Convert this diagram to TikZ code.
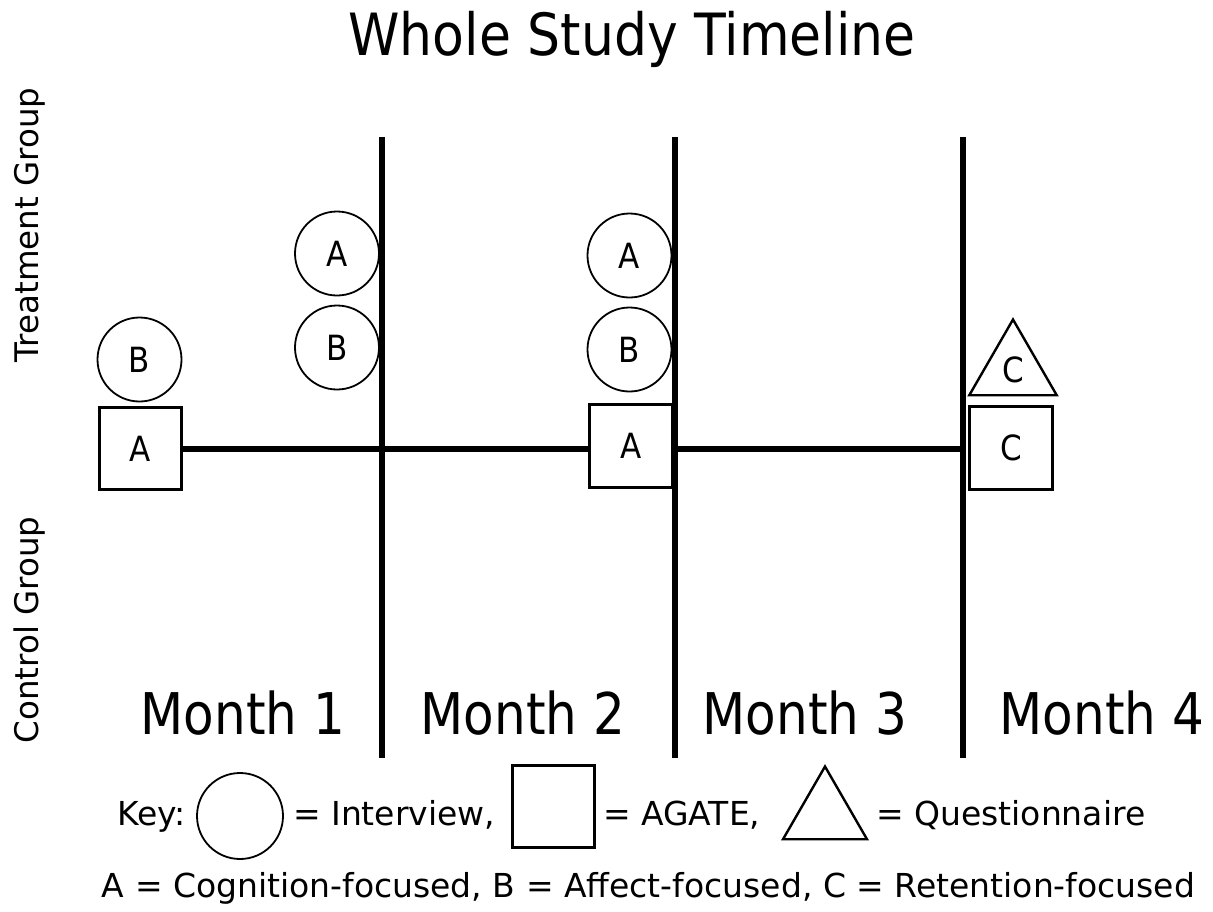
\documentclass[tikz,border=0pt]{standalone}
\usepackage{fontspec}
\setmainfont{DejaVu Sans}
\usepackage{tikz}
\usetikzlibrary{shapes.geometric, positioning}
\newcommand{\tallt}[2][1.12]{\scalebox{1}[#1]{#2}}

\begin{document}
\begin{tikzpicture}[x=1pt, y=-1pt,
    interview/.style={circle, draw=black, line width=1.8pt, minimum size=84pt, inner sep=0pt, font=\fontsize{31}{31}\selectfont},
    agate/.style={rectangle, draw=black, line width=2.6pt, minimum size=82.5pt, inner sep=0pt, font=\fontsize{31}{31}\selectfont},
    quest/.style={regular polygon, regular polygon sides=3, draw=black, line width=2.4pt, minimum size=101pt, inner sep=0pt, font=\fontsize{31}{31}\selectfont},
    divider/.style={line width=6pt},
    timeline/.style={line width=6pt},
    month/.style={anchor=base, font=\fontsize{50}{50}\selectfont},
    group/.style={rotate=90, font=\fontsize{32.5}{33}\selectfont},
    keytext/.style={anchor=base west, inner sep=0pt, font=\fontsize{33}{33}\selectfont},
]
\useasboundingbox (0,0) rectangle (1213,911);

% Title
\node[anchor=base, font=\fontsize{52}{52}\selectfont] (title) at (632,55) {\tallt{Whole Study Timeline}};

% Group labels
\node[group] (treat) at (30,225) {Treatment Group};
\node[group] (ctrl) at (30,630) {Control Group};

% Month dividers
\foreach \x [count=\i] in {382,675,963} {
    \coordinate (top\i) at (\x,137);
    \coordinate (bot\i) at (\x,758);
    \draw[divider] (top\i) -- (bot\i);
}

% Months
\foreach \x [count=\i] in {243,523,805,1102} {
    \node[month] (month\i) at (\x,734) {\tallt[1.15]{Month \i}};
}

% Month 1
\node[agate] (agA1) at (140.5,448.5) {\tallt{A}};
\node[interview] (intB1) at (139.5,359.5) {\tallt{B}};
\node[interview] (intA2) at (337,253.5) {\tallt{A}};
\node[interview] (intB2) at (337,347.5) {\tallt{B}};

% Month 2
\node[interview] (intA3) at (629.5,255.5) {\tallt{A}};
\node[interview] (intB3) at (629.5,349.5) {\tallt{B}};
\node[agate] (agA3) at (631,446) {\tallt{A}};

% Month 4
\node[quest] (qC4) at (1013,370) {\tallt{C}};
\node[agate] (agC4) at (1011,448) {\tallt{C}};

% Timeline
\draw[timeline] (agA1.east) -- (agA1.east -| agA3.west);
\draw[timeline] (agA3.east |- agA1.east) -- (bot3 |- agA1.east);

% Key
\node[keytext] (key) at (117,825) {Key:};
\node[interview, minimum size=86pt] (keyint) at (240,816) {};
\node[keytext] (keyinttxt) at (293,825) {= Interview,};
\node[agate] (keyag) at (553.5,806.5) {};
\node[keytext] (keyagtxt) at (603,825) {= AGATE,};
\node[quest, minimum size=97pt] (keyq) at (825,815) {};
\node[keytext] (keyqtxt) at (876,825) {= Questionnaire};
\node[anchor=base, inner sep=0pt, font=\fontsize{33}{33}\selectfont] (legend) at (648.5,897) {A = Cognition-focused, B = Affect-focused, C = Retention-focused};

\end{tikzpicture}
\end{document}
